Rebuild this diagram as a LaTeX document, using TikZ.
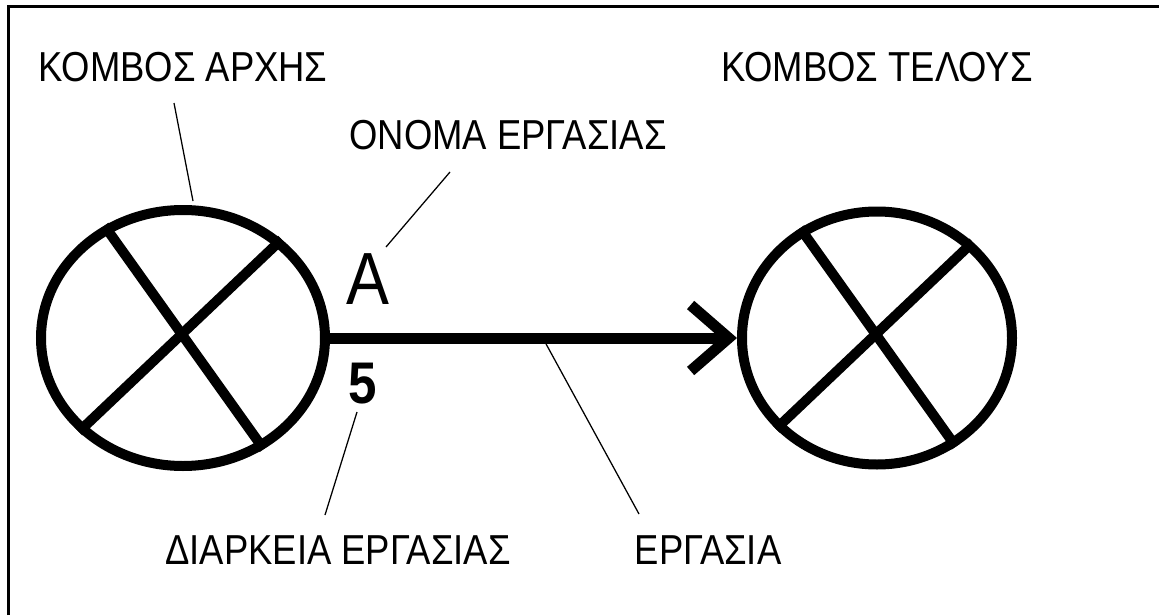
\documentclass[tikz,border=0pt]{standalone}
\usepackage{fontspec}
\setmainfont{Liberation Sans}[FakeStretch=0.87]
\usepackage{tikz}
\usetikzlibrary{calc, arrows.meta, shapes.geometric}
\tikzstyle{knot}=[draw, ellipse, line width=0.25cm, inner sep=0pt]
\tikzstyle{bar}=[line width=0.25cm]
\tikzstyle{lead}=[line width=0.9pt]
\tikzstyle{lbl}=[inner sep=0pt, font=\fontsize{29.8}{32}\selectfont]

\begin{document}
\begin{tikzpicture}[node distance=2cm,>={Straight Barb[length=0.95cm,width=1.65cm]}]
      \useasboundingbox (-4.575,-6.925) rectangle (24.4,8.45);
      \draw[line width=0.0625cm] (-4.3625,-6.925) -- (-4.3625,8.2875) -- (24.4,8.2875);

      \node [knot, minimum width=7.1cm, minimum height=6.4cm] (start) at (0,0) {};
      \node [knot, minimum width=6.75cm, minimum height=6.325cm] (end) [right of=start, node distance=17.35cm] {};

      \draw[bar] (start.125) -- (start.-54);
      \draw[bar] (start.45) -- (start.222);
      \draw[bar] (end.125) -- (end.-54);
      \draw[bar] (end.45) -- (end.222);

      \draw[->, line width=0.275cm] (start) -- (end);

      \node [lbl] (tstart) [above of=start, node distance=6.775cm] {ΚΟΜΒΟΣ ΑΡΧΗΣ};
      \node [lbl] (tend) [above of=end, node distance=6.775cm] {ΚΟΜΒΟΣ ΤΕΛΟΥΣ};
      \node [lbl] (tname) at (8.125,5.075) {ΟΝΟΜΑ ΕΡΓΑΣΙΑΣ};
      \node [lbl, font=\fontsize{52.6}{56}\selectfont] (name) at (4.625,1.475) {A};
      \node [lbl, font=\bfseries\fontsize{41.8}{44}\selectfont] (dur) at (4.5,-1.15) {5};
      \node [lbl] (tdur) at (3.875,-5.3) {ΔΙΑΡΚΕΙΑ ΕΡΓΑΣΙΑΣ};
      \node [lbl] (ttask) at (13.125,-5.3) {ΕΡΓΑΣΙΑ};

      \coordinate (l1a) at (-0.225,5.875);
      \coordinate (l1b) at (0.25,3.425);
      \coordinate (l2a) at (6.675,4.15);
      \coordinate (l2b) at (5.075,2.275);
      \coordinate (l3a) at (4.35,-1.85);
      \coordinate (l3b) at (3.55,-4.425);
      \coordinate (l4a) at (9.05,-0.1);
      \coordinate (l4b) at (11.4,-4.4);

      \draw[lead] (l1a) -- (l1b);
      \draw[lead] (l2a) -- (l2b);
      \draw[lead] (l3a) -- (l3b);
      \draw[lead] (l4a) -- (l4b);
\end{tikzpicture}
\end{document}
